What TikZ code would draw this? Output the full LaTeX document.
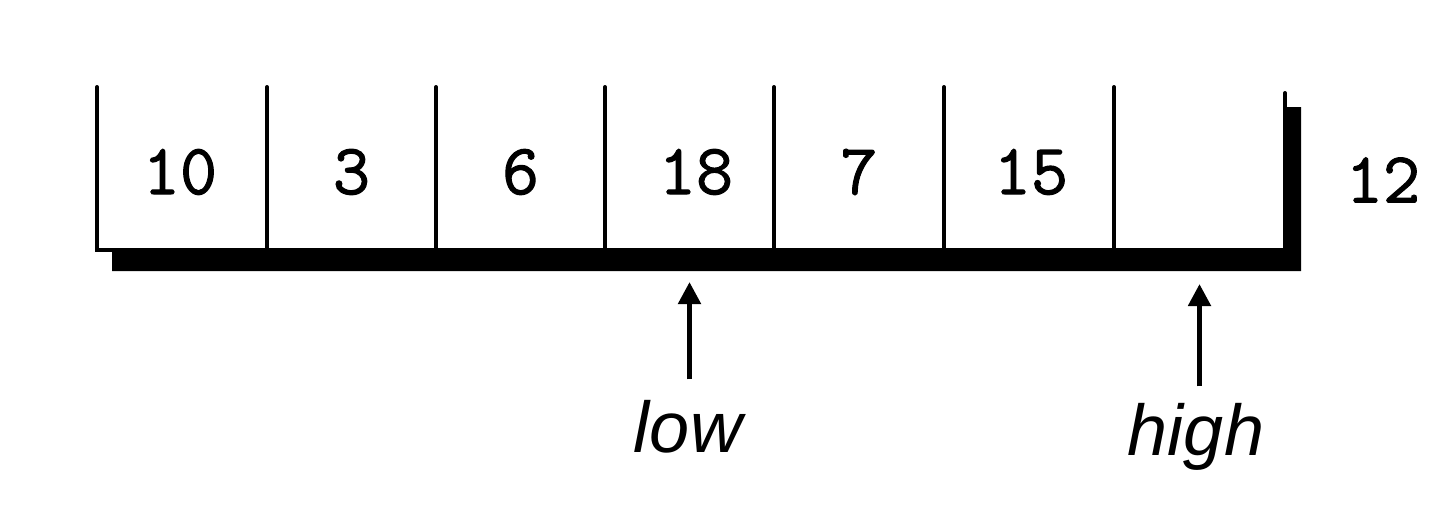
\documentclass[tikz,border=0pt]{standalone}
\usepackage{fontspec}
\newfontfamily\labsans{Liberation Sans}
\newfontfamily\cellmono{Latin Modern Mono}[FakeBold=1.5]
\usetikzlibrary{arrows.meta}
\begin{document}
\begin{tikzpicture}[x=0.5pt,y=-0.5pt,
  cellnum/.style={font=\cellmono\fontsize{36}{40}\selectfont, inner sep=0pt},
  frameline/.style={line width=2pt, line cap=round},
  ptr/.style={line width=2.5pt, -{Triangle[length=11pt,width=11pt]}},
  ptrlabel/.style={font=\labsans\itshape\fontsize{36}{40}\selectfont, inner sep=0pt, anchor=base}]
\useasboundingbox (0,0) rectangle (1440,520);
% shadow
\fill (112,252) -- (1286,252) -- (1286,107) -- (1301,107) -- (1301,271) -- (112,271) -- cycle;
% frame
\draw[frameline] (97,87) -- (97,250) -- (1285,250) -- (1285,93);
\foreach \x in {267,436,605,774,944,1114} \draw[frameline] (\x,87) -- (\x,250);
% cells
\node[cellnum] (c1) at (180,172) {10};
\node[cellnum] (c2) at (351.5,172) {3};
\node[cellnum] (c3) at (520.5,172) {6};
\node[cellnum] (c4) at (696,172) {18};
\node[cellnum] (c5) at (859,172) {7};
\node[cellnum] (c6) at (1031,172) {15};
\node[cellnum] (c7) at (1199.5,172) {};
\node[cellnum] (extra) at (1383,180) {12};
% pointers
\node[ptrlabel] (low) at (688,452) {low};
\node[ptrlabel] (high) at (1196,455) {high};
\coordinate (lowtip) at (689.5,282);
\coordinate (hightip) at (1199.5,284);
\draw[ptr, shorten <=10pt] (low.north -| lowtip) -- (lowtip);
\draw[ptr, shorten <=8pt] (high.north -| hightip) -- (hightip);
\end{tikzpicture}
\end{document}
